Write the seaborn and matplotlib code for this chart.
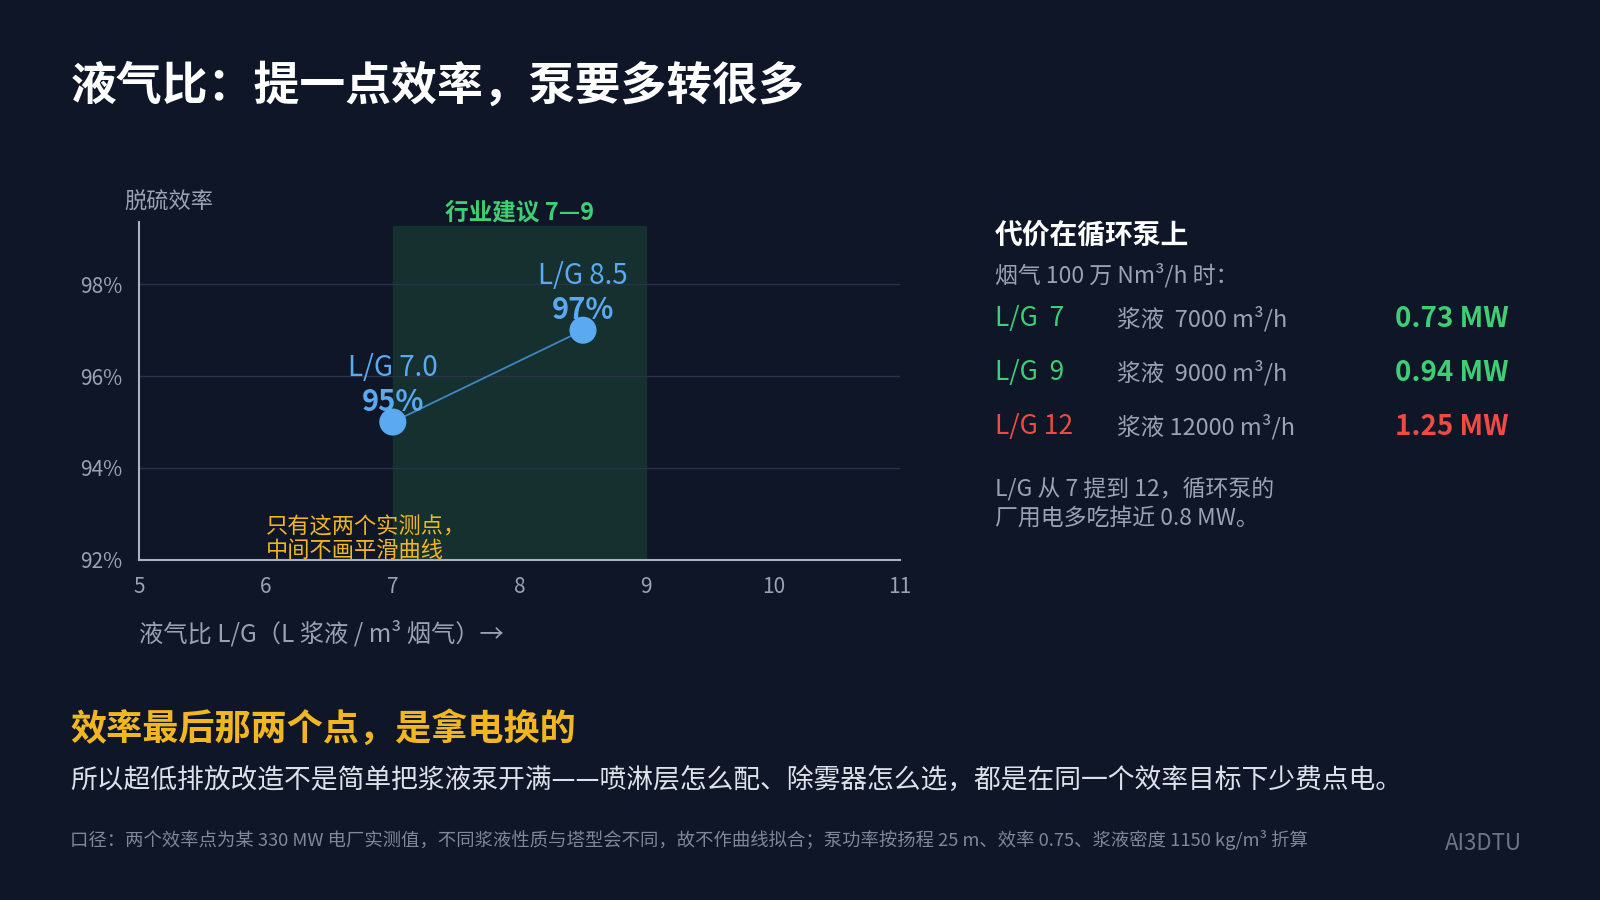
import matplotlib.pyplot as plt
import seaborn as sns
import pandas as pd

lg = [7.0, 8.5]
eff = [95, 97]
point_labels = ['L/G 7.0', 'L/G 8.5']
yticks = [92, 94, 96, 98]
xticks = [5, 6, 7, 8, 9, 10, 11]
band = (7, 9)

cost_lg = ['L/G  7', 'L/G  9', 'L/G 12']
cost_flow = ['浆液  7000 m³/h', '浆液  9000 m³/h', '浆液 12000 m³/h']
cost_mw = ['0.73 MW', '0.94 MW', '1.25 MW']
cost_color = ['#3ecf74', '#3ecf74', '#ef4b43']

BG = '#0e1628'
sns.set_theme(style='dark')
plt.rcParams['font.family'] = ['Noto Sans CJK SC', 'DejaVu Sans']

fig = plt.figure(figsize=(16, 9), dpi=100)
fig.patch.set_facecolor(BG)
ax = fig.add_axes([0.087, 0.378, 0.4755, 0.375])
ax.set_facecolor(BG)

ax.axvspan(band[0], band[1], ymin=0, ymax=0.99, color='#15302f', zorder=0)
for y in yticks[1:]:
    ax.axhline(y, color='#2a3446', lw=1, zorder=1)

df = pd.DataFrame({'lg': lg, 'eff': eff})
sns.lineplot(data=df, x='lg', y='eff', ax=ax, color='#3f86c4', lw=1.3, zorder=2)
sns.scatterplot(data=df, x='lg', y='eff', ax=ax, color='#5aaaf2', s=380, edgecolor='none', zorder=3)
for x, y, lab in zip(lg, eff, point_labels):
    ax.text(x, y + 1.0, lab, color='#5aaaf2', fontsize=20, ha='center')
    ax.text(x, y + 0.25, f'{y}%', color='#5aaaf2', fontsize=21, fontweight='bold', ha='center')

ax.set_xlim(5, 11)
ax.set_ylim(92, 99.35)
ax.set_xticks(xticks)
ax.set_yticks(yticks)
ax.set_yticklabels([f'{v}%' for v in yticks])
ax.tick_params(colors='#9aa3b2', labelsize=15, length=0, pad=12)
ax.set_xlabel('')
ax.set_ylabel('')
for s in ['top', 'right']:
    ax.spines[s].set_visible(False)
for s in ['left', 'bottom']:
    ax.spines[s].set_color('#aab2c0')
    ax.spines[s].set_linewidth(1.5)

ax.text(8, 99.4, '行业建议 7—9', color='#3ecf74', fontsize=17, ha='center', fontweight='bold')
ax.text(6.0, 91.95, '只有这两个实测点，\n中间不画平滑曲线', color='#f2b720', fontsize=16, va='bottom', linespacing=1.05)

fig.text(0.078, 0.768, '脱硫效率', color='#9aa3b2', fontsize=16)
fig.text(0.087, 0.287, '液气比 L/G（L 浆液 / m³ 烟气）→', color='#9aa3b2', fontsize=17.5)

fig.text(0.044, 0.904, '液气比：提一点效率，泵要多转很多', color='white', fontsize=33, fontweight='bold', va='center')

fig.text(0.622, 0.738, '代价在循环泵上', color='white', fontsize=20, fontweight='bold', va='center')
fig.text(0.622, 0.694, '烟气 100 万 Nm³/h 时：', color='#9aa3b2', fontsize=16.5, va='center')
for i in range(3):
    y = 0.646 - i * 0.06
    fig.text(0.622, y, cost_lg[i], color=cost_color[i], fontsize=19, va='center')
    fig.text(0.698, y, cost_flow[i], color='#9aa3b2', fontsize=17, va='center')
    fig.text(0.872, y, cost_mw[i], color=cost_color[i], fontsize=20, fontweight='bold', va='center')
fig.text(0.622, 0.47, 'L/G 从 7 提到 12，循环泵的\n厂用电多吃掉近 0.8 MW。', color='#9aa3b2', fontsize=16.5,
         linespacing=1.35, va='top')

fig.text(0.044, 0.19, '效率最后那两个点，是拿电换的', color='#f2b720', fontsize=26, fontweight='bold', va='center')
fig.text(0.044, 0.133, '所以超低排放改造不是简单把浆液泵开满——喷淋层怎么配、除雾器怎么选，都是在同一个效率目标下少费点电。',
         color='#dde2ea', fontsize=19.3, va='center')
fig.text(0.044, 0.067, '口径：两个效率点为某 330 MW 电厂实测值，不同浆液性质与塔型会不同，故不作曲线拟合；泵功率按扬程 25 m、效率 0.75、浆液密度 1150 kg/m³ 折算',
         color='#7f8898', fontsize=13.2, va='center')
fig.text(0.903, 0.063, 'AI3DTU', color='#6c7585', fontsize=16, va='center')

fig.savefig('out.png', dpi=100, facecolor=BG)
